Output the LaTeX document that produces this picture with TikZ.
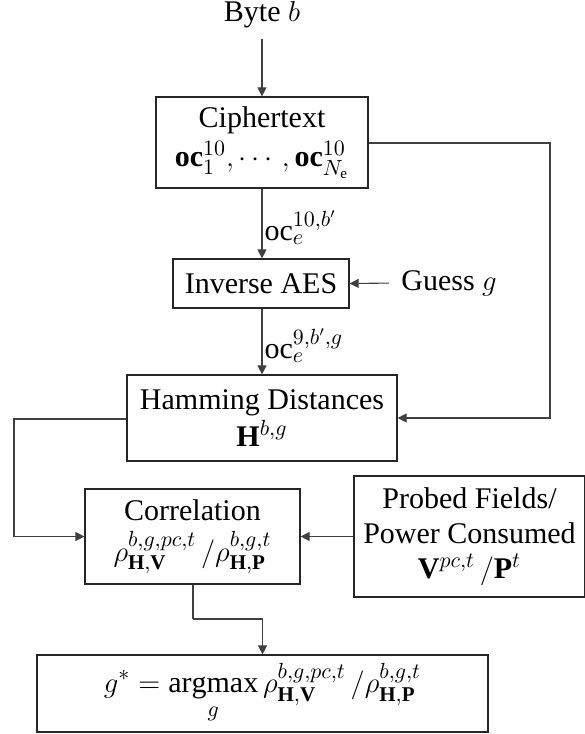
\documentclass[tikz,border=0pt]{standalone}
\usepackage{amsmath}
\usepackage{fontspec}
\setmainfont{LiberationSerif}[Extension=.ttf, UprightFont=*-Regular, BoldFont=*-Bold, ItalicFont=*-Italic, BoldItalicFont=*-BoldItalic]
\usetikzlibrary{arrows.meta}
\newcommand\diagfont{\fontsize{15}{17.5}\selectfont}
\begin{document}
\begin{tikzpicture}[x=0.5pt,y=-0.5pt,
  box/.style={draw=black!85, line width=0.6pt, align=center, inner sep=0pt, font=\diagfont},
  plain/.style={align=center, inner sep=2pt, font=\diagfont},
  edgelabel/.style={right, font=\diagfont, inner sep=1pt},
  wire/.style={draw=black!75, line width=0.55pt},
  arr/.style={wire, -{Triangle[length=4.5pt,width=4.5pt]}}]
\useasboundingbox (0,0) rectangle (584,734);

% input byte and key guess
\node[plain] (byte) at (262,15) {Byte $b$};
\node[plain, anchor=west] (guess) at (397,283) {Guess $g$};

% processing chain
\node[box, minimum width=106pt, minimum height=45.5pt] (cipher) at (262,142.5)
  {Ciphertext\\[2pt]$\mathbf{oc}_1^{10},\cdots,\mathbf{oc}_{N_\mathrm{e}}^{10}$};
\node[box, minimum width=88pt, minimum height=24.5pt] (inv) at (261,283.5) {Inverse AES};
\node[box, minimum width=135pt, minimum height=43pt] (ham) at (262,418)
  {Hamming Distances\\[1pt]$\mathbf{H}^{b,g}$};
\node[box, minimum width=107.5pt, minimum height=47.5pt] (corr) at (192.5,536.5)
  {Correlation\\[3pt]$\rho_{\mathbf{H},\mathbf{V}}^{b,g,pc,t}\,/\rho_{\mathbf{H},\mathbf{P}}^{b,g,t}$};
\node[box, minimum width=115.5pt, minimum height=60.5pt] (probe) at (469.5,536.5)
  {Probed Fields/\\Power Consumed\\$\mathbf{V}^{pc,t}\,/\mathbf{P}^{t}$};
\node[box, minimum width=225.5pt, minimum height=38.5pt] (final) at (262.5,693.5)
  {$\displaystyle g^{*}=\operatorname*{argmax}_{g}\rho_{\mathbf{H},\mathbf{V}}^{b,g,pc,t}\,/\rho_{\mathbf{H},\mathbf{P}}^{b,g,t}$};

% bends of the routed connectors
\coordinate (fbR) at (550,143);
\coordinate (fbL) at (14,419);
\coordinate (bend) at (193,619);

% connectors
\draw[arr, shorten <=3pt] (cipher.north |- byte.south) -- (cipher.north);
\draw[arr] (cipher.south) -- node[edgelabel, yshift=-2pt] {$\mathrm{oc}_e^{10,b'}$} (inv.north -| cipher.south);
\draw[arr, shorten <=4pt] (guess.west) -- (inv.east);
\draw[arr] (inv.south -| ham.north) -- node[edgelabel, yshift=-2pt] {$\mathrm{oc}_e^{9,b',g}$} (ham.north);
\draw[arr] (cipher.east |- fbR) -- (fbR) |- (ham.east);
\draw[arr] (ham.west |- fbL) -- (fbL) |- (corr.west);
\draw[arr] (probe.west) -- (corr.east);
\draw[wire] (corr.south -| bend) -- (bend);
\draw[arr] (bend) -| (final.north);
\end{tikzpicture}
\end{document}
